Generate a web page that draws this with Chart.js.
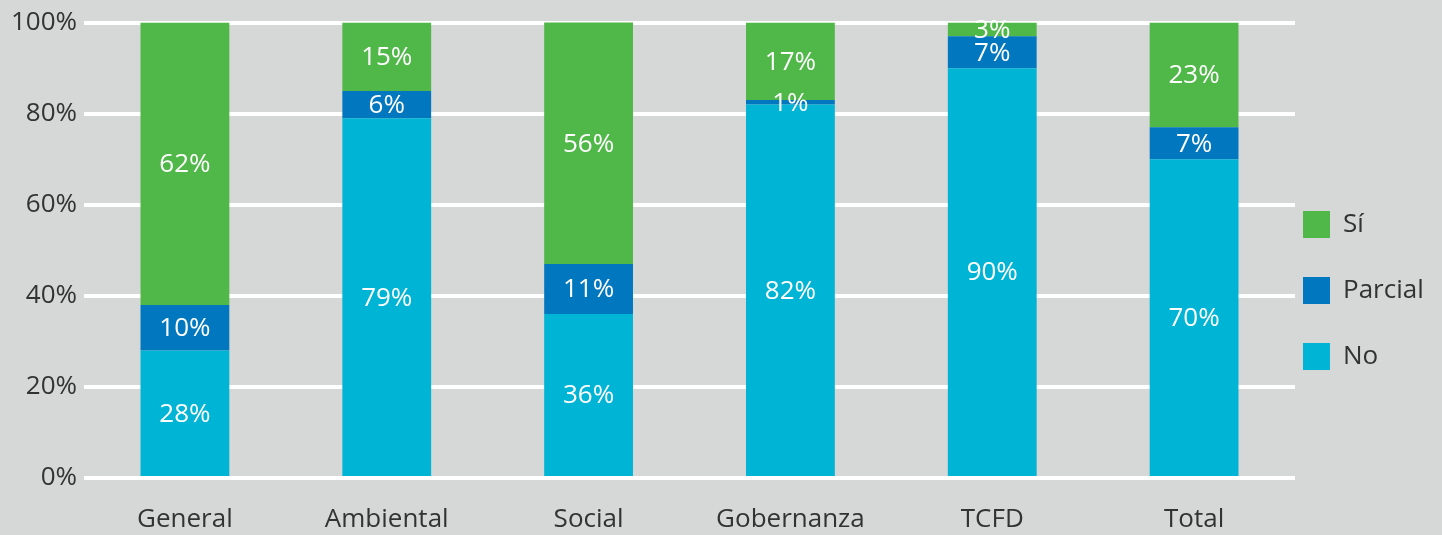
<!DOCTYPE html>
<html>
<head>
<meta charset="utf-8">
<script src="https://cdn.jsdelivr.net/npm/chart.js@4/dist/chart.umd.min.js"></script>
<style>
  html, body { margin: 0; padding: 0; background: #d6d7d7; }
  #wrap { width: 1442px; height: 535px; position: relative; }
</style>
</head>
<body>
<div id="wrap"><canvas id="chart"></canvas></div>
<script>
// Chart data
const categories = ["General", "Ambiental", "Social", "Gobernanza", "TCFD", "Total"];
const noValues = [28, 79, 36, 82, 90, 70];
const parcialValues = [10, 6, 11, 1, 7, 7];
const siValues = [62, 15, 56, 17, 3, 23];
const yTicks = [0, 20, 40, 60, 80, 100];

const textColor = "#333333";
const fontFamily = "'Open Sans', 'DejaVu Sans', sans-serif";
const fontWeight = 400;

// White percentage labels in the middle of each segment
const segmentLabels = {
    id: "segmentLabels",
    afterDatasetsDraw(chart) {
        const ctx = chart.ctx;
        const area = chart.chartArea;
        ctx.save();
        ctx.fillStyle = "#ffffff";
        ctx.font = fontWeight + " 26px " + fontFamily;
        ctx.textAlign = "center";
        ctx.textBaseline = "middle";
        chart.data.datasets.forEach((ds, i) => {
            chart.getDatasetMeta(i).data.forEach((bar, j) => {
                const top = Math.max(bar.y, area.top);
                const mid = (top + bar.base) / 2;
                ctx.fillText(ds.data[j] + "%", bar.x, mid + 1);
            });
        });
        ctx.restore();
    }
};

// Legend on the right, Sí on top
const sideLegend = {
    id: "sideLegend",
    afterDraw(chart) {
        const ctx = chart.ctx;
        const order = [2, 1, 0];
        ctx.save();
        ctx.font = fontWeight + " 26px " + fontFamily;
        ctx.textBaseline = "middle";
        order.forEach((idx, k) => {
            const ds = chart.data.datasets[idx];
            const cy = 224 + k * 66;
            ctx.fillStyle = ds.backgroundColor;
            ctx.fillRect(1303, cy - 13, 27, 27);
            ctx.fillStyle = textColor;
            ctx.fillText(ds.label, 1343, cy + 1);
        });
        ctx.restore();
    }
};

new Chart(document.getElementById("chart").getContext("2d"), {
    type: "bar",
    data: {
        labels: categories,
        datasets: [
            { label: "No", data: noValues, backgroundColor: "#00b4d5" },
            { label: "Parcial", data: parcialValues, backgroundColor: "#0077be" },
            { label: "Sí", data: siValues, backgroundColor: "#50b848" }
        ]
    },
    options: {
        responsive: true,
        maintainAspectRatio: false,
        animation: false,
        layout: { padding: { top: 20, right: 147, bottom: 0, left: 0 } },
        datasets: { bar: { categoryPercentage: 1, barPercentage: 0.44 } },
        plugins: { legend: { display: false }, tooltip: { enabled: false } },
        scales: {
            x: {
                stacked: true,
                afterFit(scale) { scale.height = 57; },
                grid: { display: false },
                border: { display: false },
                ticks: { color: textColor, font: { family: fontFamily, size: 26, weight: fontWeight }, padding: 18 }
            },
            y: {
                stacked: true,
                min: 0,
                max: 100,
                afterFit(scale) { scale.width = 84; },
                afterBuildTicks(scale) { scale.ticks = yTicks.map(v => ({ value: v })); },
                grid: { color: "#ffffff", lineWidth: 4, drawTicks: false },
                border: { display: false },
                ticks: {
                    color: textColor,
                    font: { family: fontFamily, size: 26, weight: fontWeight },
                    padding: 7,
                    callback: v => v + "%"
                }
            }
        }
    },
    plugins: [segmentLabels, sideLegend]
});
</script>
</body>
</html>
